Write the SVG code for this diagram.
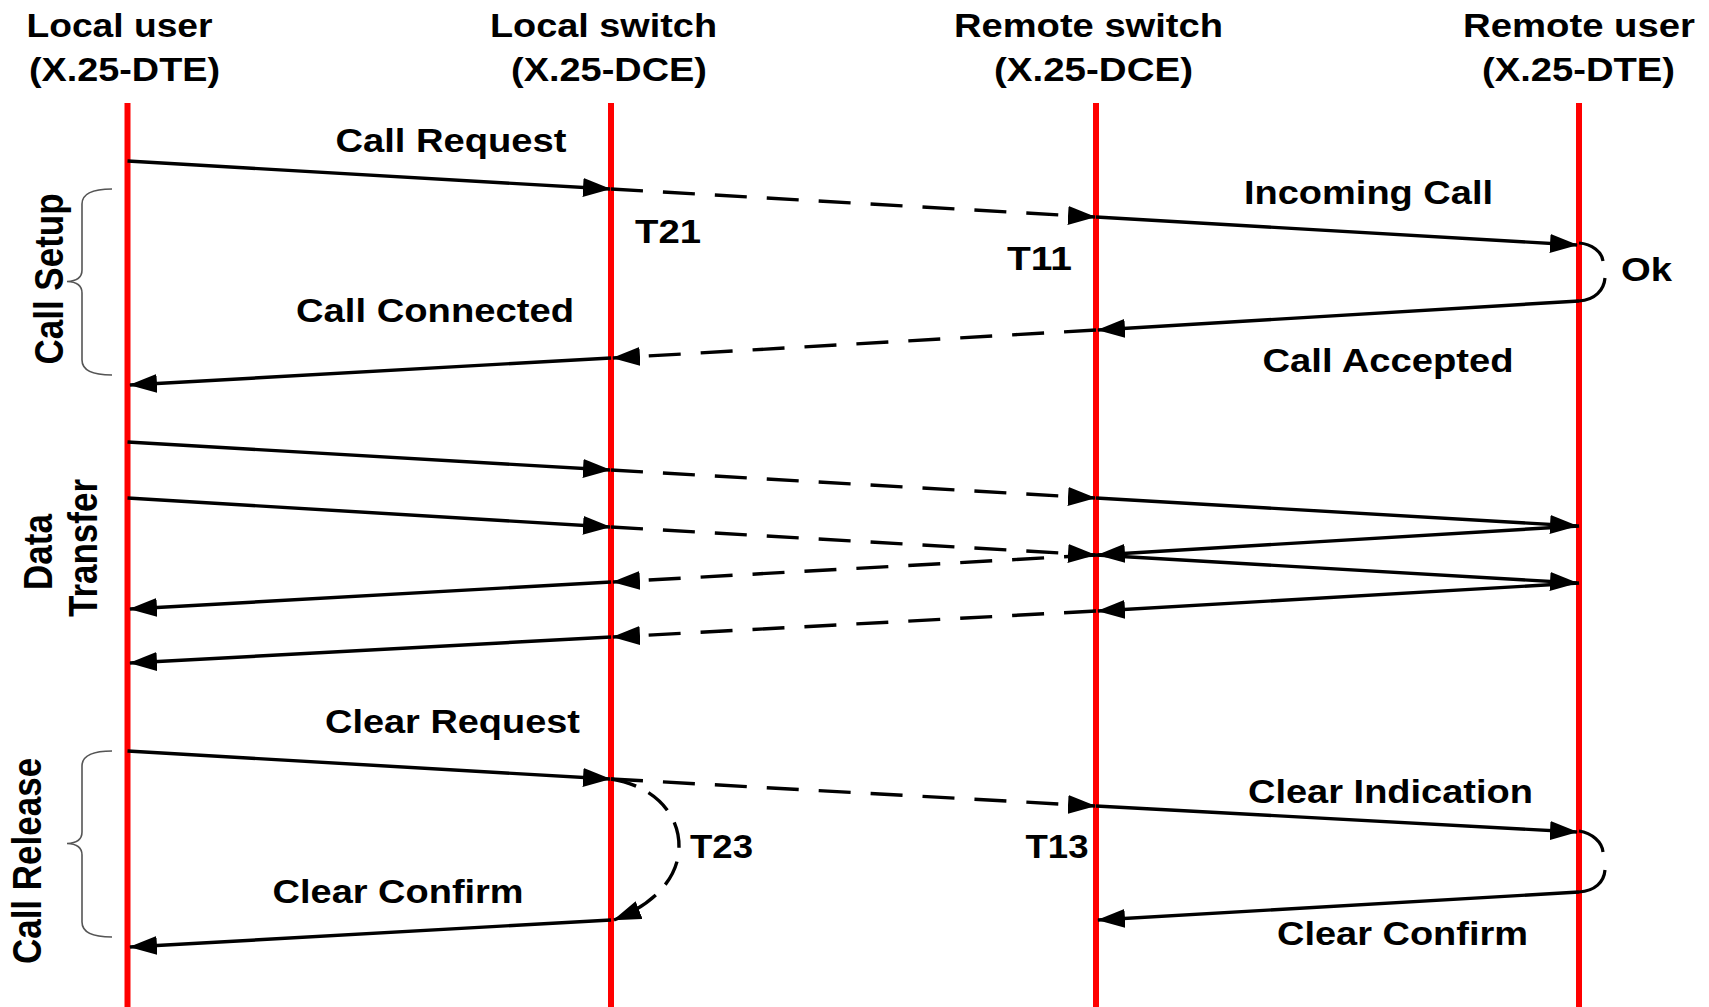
<svg xmlns="http://www.w3.org/2000/svg" width="1709" height="1007" viewBox="0 0 1709 1007">
<style>
text{font-family:"Liberation Sans",Arial,sans-serif;font-weight:bold;fill:#000;}
.h{font-size:33.5px;}
.v{font-size:35px;text-anchor:middle;}
.life{stroke:#ff0000;stroke-width:6;fill:none;}
.s{stroke:#000;stroke-width:3.4;fill:none;marker-end:url(#ah);}
.d{stroke:#000;stroke-width:3.4;fill:none;stroke-dasharray:32 20;marker-end:url(#ah);}
.arc{stroke:#000;stroke-width:3.2;fill:none;}
.brace{stroke:#555;stroke-width:1.6;fill:none;}
</style>
<defs>
<marker id="ah" markerUnits="userSpaceOnUse" markerWidth="28" markerHeight="19" refX="27" refY="9.5" orient="auto" viewBox="0 0 28 19">
<path d="M0,0 L28,9.5 L0,19 z" fill="#000"/>
</marker>
</defs>
<rect width="1709" height="1007" fill="#fff"/>

<g id="local-user">
<line class="life" x1="127.5" y1="103" x2="127.5" y2="1007"/>
<text class="h" x="26.5" y="36.5" textLength="186" lengthAdjust="spacingAndGlyphs">Local user</text>
<text class="h" x="29" y="81" textLength="191" lengthAdjust="spacingAndGlyphs">(X.25-DTE)</text>
</g>
<g id="local-switch">
<line class="life" x1="611" y1="103" x2="611" y2="1007"/>
<text class="h" x="490" y="36.5" textLength="227" lengthAdjust="spacingAndGlyphs">Local switch</text>
<text class="h" x="511" y="81" textLength="196" lengthAdjust="spacingAndGlyphs">(X.25-DCE)</text>
</g>
<g id="remote-switch">
<line class="life" x1="1096" y1="103" x2="1096" y2="1007"/>
<text class="h" x="954" y="36.5" textLength="269" lengthAdjust="spacingAndGlyphs">Remote switch</text>
<text class="h" x="994" y="81" textLength="199" lengthAdjust="spacingAndGlyphs">(X.25-DCE)</text>
</g>
<g id="remote-user">
<line class="life" x1="1579" y1="103" x2="1579" y2="1007"/>
<text class="h" x="1463" y="36.5" textLength="232" lengthAdjust="spacingAndGlyphs">Remote user</text>
<text class="h" x="1482" y="81" textLength="193" lengthAdjust="spacingAndGlyphs">(X.25-DTE)</text>
</g>

<g id="phase-call-setup">
<path class="brace" d="M112,189 Q82,189 82,204 L82,270 Q82,281 67,281.5 Q82,282 82,293 L82,360 Q82,375 112,375"/>
<text class="v" transform="translate(63,279) rotate(-90) scale(1,1.15)">Call Setup</text>
</g>
<g id="phase-data-transfer">
<text class="v" transform="translate(52,552) rotate(-90) scale(1,1.15)">Data</text>
<text class="v" transform="translate(97,548) rotate(-90) scale(1,1.15)">Transfer</text>
</g>
<g id="phase-call-release">
<path class="brace" d="M112,751 Q82,751 82,766 L82,832 Q82,843 67,843.5 Q82,844 82,855 L82,922 Q82,937 112,937"/>
<text class="v" transform="translate(41,861) rotate(-90) scale(1,1.15)">Call Release</text>
</g>

<g id="connectors">
<line class="s" x1="127.5" y1="161" x2="610" y2="189"/>
<line class="d" x1="611" y1="189" x2="1095" y2="217"/>
<line class="s" x1="1096" y1="217" x2="1577" y2="245"/>
<path class="arc" d="M1579,243 C1592,244 1602,252 1603,261"/>
<path class="arc" d="M1605,278 C1604,290 1595,300 1579,301"/>
<line class="s" x1="1579" y1="301" x2="1098" y2="330"/>
<line class="d" x1="1096" y1="330" x2="613" y2="358"/>
<line class="s" x1="611" y1="358" x2="130" y2="385"/>
<line class="s" x1="127.5" y1="442" x2="610" y2="470"/>
<line class="d" x1="611" y1="470" x2="1095" y2="498"/>
<line class="s" x1="1096" y1="498" x2="1577" y2="526"/>
<line class="s" x1="127.5" y1="498" x2="610" y2="527"/>
<line class="d" x1="611" y1="527" x2="1095" y2="555"/>
<line class="s" x1="1096" y1="555" x2="1577" y2="583"/>
<line class="s" x1="1579" y1="526" x2="1098" y2="555"/>
<line class="d" x1="1096" y1="555" x2="613" y2="582"/>
<line class="s" x1="611" y1="582" x2="130" y2="609"/>
<line class="s" x1="1579" y1="583" x2="1098" y2="611"/>
<line class="d" x1="1096" y1="611" x2="613" y2="637"/>
<line class="s" x1="611" y1="637" x2="130" y2="663"/>
<line class="s" x1="127.5" y1="751" x2="610" y2="779"/>
<line class="d" x1="611" y1="779" x2="1095" y2="806"/>
<line class="s" x1="1096" y1="806" x2="1577" y2="832"/>
<path class="arc" d="M1579,831 C1592,833 1602,842 1603,852"/>
<path class="arc" d="M1605,870 C1604,882 1595,891 1579,892"/>
<line class="s" x1="1579" y1="892" x2="1098" y2="920"/>
<path class="d" style="stroke-dasharray:26 14" d="M611,779 C655,786 680,815 679,848 C678,880 652,905 614,920"/>
<line class="s" x1="611" y1="920" x2="130" y2="947"/>
</g>

<g id="labels">
<text class="h" x="335.5" y="152" textLength="231" lengthAdjust="spacingAndGlyphs">Call Request</text>
<text class="h" x="635" y="242.5" textLength="66" lengthAdjust="spacingAndGlyphs">T21</text>
<text class="h" x="1244" y="204" textLength="249" lengthAdjust="spacingAndGlyphs">Incoming Call</text>
<text class="h" x="1007" y="270" textLength="65" lengthAdjust="spacingAndGlyphs">T11</text>
<text class="h" x="1621" y="281" textLength="51" lengthAdjust="spacingAndGlyphs">Ok</text>
<text class="h" x="296" y="321.5" textLength="278" lengthAdjust="spacingAndGlyphs">Call Connected</text>
<text class="h" x="1262.5" y="372" textLength="251" lengthAdjust="spacingAndGlyphs">Call Accepted</text>
<text class="h" x="325" y="733" textLength="255" lengthAdjust="spacingAndGlyphs">Clear Request</text>
<text class="h" x="1248" y="803" textLength="285" lengthAdjust="spacingAndGlyphs">Clear Indication</text>
<text class="h" x="690" y="858" textLength="63" lengthAdjust="spacingAndGlyphs">T23</text>
<text class="h" x="1025.5" y="858" textLength="63" lengthAdjust="spacingAndGlyphs">T13</text>
<text class="h" x="272.6" y="903" textLength="251" lengthAdjust="spacingAndGlyphs">Clear Confirm</text>
<text class="h" x="1277" y="945" textLength="251" lengthAdjust="spacingAndGlyphs">Clear Confirm</text>
</g>
</svg>
